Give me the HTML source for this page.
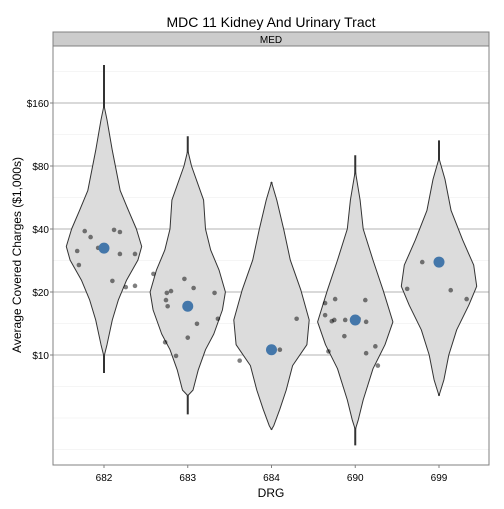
<!DOCTYPE html>
<html><head><meta charset="utf-8"><style>
body{margin:0;background:#fff;}
svg text{font-family:"Liberation Sans",Arial,sans-serif;}
</style></head><body>
<svg id="chart" width="504" height="504" xmlns="http://www.w3.org/2000/svg">
<text x="271" y="27" text-anchor="middle" font-size="14">MDC 11 Kidney And Urinary Tract</text>
<rect x="53" y="32" width="436" height="14" fill="#cccccc" stroke="#808080" stroke-width="1"/>
<text x="271" y="43" text-anchor="middle" font-size="10">MED</text>
<g id="grid"></g>
<g id="marks"></g>
<rect x="53" y="46" width="436" height="419" fill="none" stroke="#808080" stroke-width="1"/>
<g id="axes"></g>
<text x="271" y="497" text-anchor="middle" font-size="12">DRG</text>
<text transform="translate(21,255) rotate(-90)" text-anchor="middle" font-size="12">Average Covered Charges ($1,000s)</text>
</svg>
<script>
const categories=["682","683","684","690","699"];
const yTicks=[10,20,40,80,160];
const yTickLabels=["$10","$20","$40","$80","$160"];
const means=[32.4,17.1,10.6,14.7,27.8];
const whiskerLo=[8.2,5.2,4.4,3.7,6.4];
const whiskerHi=[243,111,67,90,106];
// violin profiles: [value, relative half-width]
const profile682=[[156,0],[133,.08],[95,.22],[61,.43],[49,.65],[40,.86],[33,1],[28.4,.9],[22.8,.6],[18.3,.38],[14.7,.22],[11.2,.08],[9.8,0]];
const profile683=[[95,0],[80,.1],[55,.42],[40,.47],[31.7,.61],[25.5,.83],[20,1],[16.4,.92],[12.6,.69],[10.6,.47],[8.5,.28],[6.8,.14],[6.4,0]];
const profile684=[[67,0],[55,.14],[39.5,.33],[28.4,.5],[20.4,.78],[14.7,1],[11.2,.94],[8.9,.56],[6.8,.39],[5.5,.22],[4.6,.06],[4.4,0]];
const profile690=[[76,0],[55,.13],[40,.21],[28.4,.47],[20.4,.74],[14.4,1],[11.2,.79],[8.6,.47],[6.1,.21],[4.9,.08],[4.4,0]];
const profile699=[[87,0],[69,.16],[49,.32],[35.4,.63],[26.9,.92],[21.3,1],[17.3,.79],[13.2,.47],[10,.26],[7.6,.13],[6.4,0]];
const profiles=[profile682,profile683,profile684,profile690,profile699];
// jitter points: category index, value, jitter offset (fraction of band)
const ptCat=[0,0,0,0,0,0,0,0,0,0,0,0, 1,1,1,1,1,1,1,1,1,1,1,1,1, 2,2,2, 3,3,3,3,3,3,3,3,3,3,3,3,3,3, 4,4,4,4];
const ptVal=[39.1,36.6,31.4,32.5,39.6,38.7,30.4,30.4,26.9,22.6,21.1,21.4,
 24.4,23.1,19.8,20.2,18.3,17.1,20.9,19.8,14.9,14.1,12.1,11.5,9.9,
 9.4,10.6,14.9,
 17.7,18.5,15.5,14.5,14.7,14.7,14.9,18.3,14.4,12.3,11.0,10.4,10.2,8.9,
 27.8,20.7,20.4,18.5];
const ptJit=[-.23,-.16,-.32,-.07,.12,.19,.19,.37,-.3,.1,.26,.37,
 -.41,-.04,-.25,-.2,-.26,-.24,.07,.32,.36,.11,0,-.27,-.14,
 -.38,.1,.3,
 -.36,-.24,-.36,-.28,-.25,-.12,.04,.12,.13,-.13,.24,-.32,.13,.27,
 -.2,-.38,.14,.33];
const NS="http://www.w3.org/2000/svg";
const y=v=>355-63*Math.log2(v/10);
const x=i=>104+i*83.75;
const band=83.75, maxHW=0.45;
function mk(tag,attrs,parent){const e=document.createElementNS(NS,tag);for(const k in attrs)e.setAttribute(k,attrs[k]);parent.appendChild(e);return e;}
const grid=document.getElementById('grid'),marks=document.getElementById('marks'),axes=document.getElementById('axes');
const majorYs=yTicks.map(t=>Math.round(y(t)));
for(let k=-6;k<=9;k++){const yy=355-31.5*k;if(yy<47||yy>464)continue;
 const major=majorYs.includes(Math.round(yy));
 const l=mk('line',{x1:53,x2:489,y1:yy,y2:yy,stroke:major?'#b3b3b3':'#f2f2f2','stroke-width':major?1:0.8},grid);
 
 }
yTicks.forEach((t,i)=>{const tx=mk('text',{x:49,y:y(t)+4,'text-anchor':'end','font-size':10},axes);tx.textContent=yTickLabels[i];
 
 
 const tk=mk('line',{x1:50,x2:53,y1:y(t),y2:y(t),stroke:'#808080'},axes);
 
 });
categories.forEach((c,i)=>{const tx=mk('text',{x:x(i),y:481,'text-anchor':'middle','font-size':10},axes);tx.textContent=c;
 
 
 const tk=mk('line',{x1:x(i),x2:x(i),y1:465,y2:468,stroke:'#808080'},axes);
 
 
 const w=mk('line',{x1:x(i),x2:x(i),y1:y(whiskerHi[i]),y2:y(whiskerLo[i]),stroke:'#333','stroke-width':2},marks);
 
 
 const p=profiles[i];const right=p.map(d=>[x(i)+d[1]*maxHW*band,y(d[0])]);const left=p.slice().reverse().map(d=>[x(i)-d[1]*maxHW*band,y(d[0])]);
 const pts=right.concat(left);
 const path=mk('path',{d:'M'+pts.map(q=>q[0].toFixed(1)+','+q[1].toFixed(1)).join('L')+'Z',fill:'#dcdcdc',stroke:'#333','stroke-width':1,'stroke-linejoin':'round'},marks);
 
 });
ptVal.forEach((v,j)=>{const c=mk('circle',{cx:x(ptCat[j])+ptJit[j]*band,cy:y(v),r:2.3,fill:'#000','fill-opacity':0.5},marks);
 
 });
means.forEach((v,i)=>{const c=mk('circle',{cx:x(i),cy:y(v),r:5.5,fill:'#4477aa'},marks);
 
 });
</script>
</body></html>
